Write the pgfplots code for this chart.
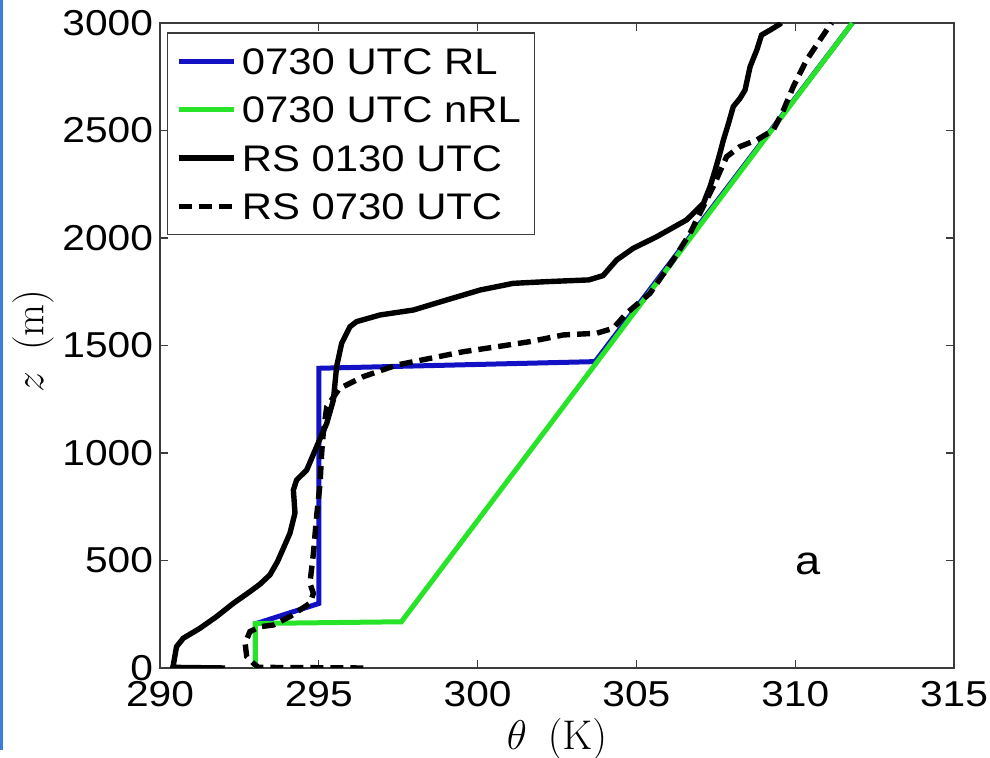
\documentclass[border=0pt]{standalone}
\usepackage[no-math]{fontspec}
\setmainfont{Liberation Sans}[FakeStretch=1.13]
\usepackage{pgfplots}
\pgfplotsset{compat=1.18}
\definecolor{rlblue}{RGB}{18,18,196}
\definecolor{nrlgreen}{RGB}{40,228,40}
\definecolor{stripblue}{RGB}{60,125,220}
\definecolor{framegray}{RGB}{60,60,60}
\begin{document}
\begin{tikzpicture}
\useasboundingbox (0,0) rectangle (495pt,379pt);
\fill[stripblue] (0,4pt) rectangle (1.65pt,379pt);
\begin{axis}[
  at={(80pt,45pt)}, anchor=south west,
  width=397pt, height=322.5pt, scale only axis,
  xmin=290, xmax=315, ymin=0, ymax=3000,
  xtick={290,295,...,315}, ytick={0,500,...,3000},
  tick align=inside, major tick length=4pt,
  axis line style={framegray, line width=0.6pt},
  tick style={framegray, line width=0.6pt},
  /pgf/number format/assume math mode=true,
  /pgf/number format/1000 sep={},
  ticklabel style={font=\fontsize{18}{21}\selectfont},
  xticklabel style={yshift=-3pt},
  xlabel={$\theta\hspace{0.5em}(\mathrm{K})$},
  ylabel={$z\hspace{0.5em}(\mathrm{m})$},
  label style={font=\fontsize{20.74}{24}\selectfont},
  xlabel style={at={(axis description cs:0.5,-0.127)}, anchor=base},
  ylabel style={at={(axis description cs:-0.16,0.507)}, anchor=center},
  legend cell align=left,
  legend style={at={(axis description cs:0.0088,0.9853)}, anchor=north west,
    font=\fontsize{18.5}{21}\selectfont, draw=framegray, line width=0.6pt,
    inner sep=4.5pt, row sep=5pt,
    nodes={text height=13.2pt, text depth=0pt, inner ysep=3pt, inner xsep=2.5pt}},
  legend image code/.code={\draw[#1] (0pt,0pt) -- (27.5pt,0pt);},
  clip=true,
]
\addplot[rlblue, line width=2.5pt] coordinates {
(293,0) (293,205) (295,300) (295,1394) (303.7,1425) (311.8,3000)};
\addlegendentry{0730 UTC RL}
\addplot[nrlgreen, line width=2.5pt] coordinates {
(293,0) (293,207) (297.6,215) (311.8,3000)};
\addlegendentry{0730 UTC nRL}
\addplot[black, line width=2.7pt] coordinates {
(292.05,0) (290.4,3) (290.42,14) (290.52,99) (290.73,138) (291.26,185)
(291.78,239) (292.31,301) (292.83,355) (293.15,390) (293.46,433) (293.70,495)
(294.09,626) (294.25,720) (294.20,828) (294.30,874) (294.62,921) (294.93,1029)
(295.25,1138) (295.46,1247) (295.56,1401) (295.72,1510) (295.98,1587)
(296.19,1611) (296.93,1642) (297.98,1665) (299.03,1712) (300.08,1758)
(301.12,1789) (302.18,1797) (303.5,1805) (303.95,1825) (304.38,1898)
(304.90,1952) (305.64,2006) (306.58,2084) (307.11,2161) (307.32,2239)
(307.48,2316) (307.63,2394) (307.74,2456) (307.90,2533) (308.05,2611)
(308.26,2649) (308.42,2688) (308.58,2797) (308.79,2874) (308.94,2944)
(309.21,2967) (309.52,2995) (309.55,3000)};
\addlegendentry{RS 0130 UTC}
\addplot[black, line width=2.7pt, dash pattern=on 6.5pt off 3.5pt] coordinates {
(296.4,0) (293.1,3) (292.94,22) (292.73,53) (292.68,115) (292.83,169)
(293.15,192) (293.57,200) (294.09,239) (294.72,301) (294.83,347) (294.72,394)
(294.83,533) (294.93,704) (295.04,859) (295.09,999) (295.14,1092)
(295.25,1215) (295.65,1300) (296.40,1355) (297.45,1409) (298.50,1440)
(299.55,1471) (300.60,1494) (301.65,1518) (302.70,1549) (303.75,1557)
(304.27,1580) (304.69,1650) (305.43,1743) (306.16,1898) (306.69,2022)
(307.00,2115) (307.42,2239) (307.84,2378) (308.26,2425) (308.79,2456)
(309.31,2502) (309.63,2595) (309.94,2704) (310.36,2828) (310.78,2921)
(311.10,2991) (311.15,3000)};
\addlegendentry{RS 0730 UTC}
\node[font=\fontsize{20}{24}\selectfont] at (axis cs:310.41,484) {a};
\end{axis}
\end{tikzpicture}
\end{document}
